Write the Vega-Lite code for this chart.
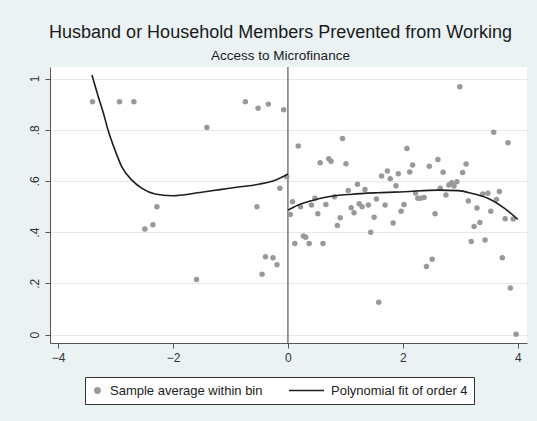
{
  "$schema": "https://vega.github.io/schema/vega-lite/v6.json",
  "autosize": {"type": "none"},
  "width": 477,
  "height": 276,
  "padding": {"left": 50, "top": 67, "right": 10, "bottom": 78},
  "background": "#eaf2f3",
  "title": {
    "text": "Husband or Household Members Prevented from Working",
    "subtitle": "Access to Microfinance",
    "anchor": "middle",
    "dx": -8,
    "offset": 4,
    "font": "Liberation Sans",
    "fontSize": 18,
    "fontWeight": "normal",
    "color": "#1a1a1a",
    "subtitleFont": "Liberation Sans",
    "subtitleFontSize": 13.5,
    "subtitleColor": "#1a1a1a",
    "subtitlePadding": 7
  },
  "datasets": {
    "pts": [
      {"x": -3.40, "y": 0.909, "series": "Sample average within bin"},
      {"x": -2.93, "y": 0.909, "series": "Sample average within bin"},
      {"x": -2.68, "y": 0.909, "series": "Sample average within bin"},
      {"x": -1.41, "y": 0.809, "series": "Sample average within bin"},
      {"x": -0.74, "y": 0.909, "series": "Sample average within bin"},
      {"x": -0.52, "y": 0.884, "series": "Sample average within bin"},
      {"x": -0.34, "y": 0.900, "series": "Sample average within bin"},
      {"x": -0.075, "y": 0.878, "series": "Sample average within bin"},
      {"x": -0.14, "y": 0.571, "series": "Sample average within bin"},
      {"x": -2.28, "y": 0.499, "series": "Sample average within bin"},
      {"x": -2.35, "y": 0.429, "series": "Sample average within bin"},
      {"x": -2.49, "y": 0.412, "series": "Sample average within bin"},
      {"x": -0.54, "y": 0.499, "series": "Sample average within bin"},
      {"x": -0.39, "y": 0.304, "series": "Sample average within bin"},
      {"x": -0.26, "y": 0.300, "series": "Sample average within bin"},
      {"x": -0.19, "y": 0.273, "series": "Sample average within bin"},
      {"x": -0.45, "y": 0.236, "series": "Sample average within bin"},
      {"x": -1.59, "y": 0.215, "series": "Sample average within bin"},
      {"x": -0.02, "y": 0.616, "series": "Sample average within bin"},
      {"x": 0.08, "y": 0.519, "series": "Sample average within bin"},
      {"x": 0.04, "y": 0.469, "series": "Sample average within bin"},
      {"x": 0.18, "y": 0.736, "series": "Sample average within bin"},
      {"x": 0.22, "y": 0.499, "series": "Sample average within bin"},
      {"x": 0.12, "y": 0.356, "series": "Sample average within bin"},
      {"x": 0.27, "y": 0.385, "series": "Sample average within bin"},
      {"x": 0.31, "y": 0.380, "series": "Sample average within bin"},
      {"x": 0.37, "y": 0.356, "series": "Sample average within bin"},
      {"x": 0.41, "y": 0.506, "series": "Sample average within bin"},
      {"x": 0.47, "y": 0.532, "series": "Sample average within bin"},
      {"x": 0.52, "y": 0.472, "series": "Sample average within bin"},
      {"x": 0.56, "y": 0.671, "series": "Sample average within bin"},
      {"x": 0.61, "y": 0.356, "series": "Sample average within bin"},
      {"x": 0.66, "y": 0.508, "series": "Sample average within bin"},
      {"x": 0.71, "y": 0.687, "series": "Sample average within bin"},
      {"x": 0.75, "y": 0.677, "series": "Sample average within bin"},
      {"x": 0.81, "y": 0.538, "series": "Sample average within bin"},
      {"x": 0.86, "y": 0.426, "series": "Sample average within bin"},
      {"x": 0.91, "y": 0.456, "series": "Sample average within bin"},
      {"x": 0.95, "y": 0.766, "series": "Sample average within bin"},
      {"x": 1.01, "y": 0.667, "series": "Sample average within bin"},
      {"x": 1.05, "y": 0.563, "series": "Sample average within bin"},
      {"x": 1.10, "y": 0.495, "series": "Sample average within bin"},
      {"x": 1.15, "y": 0.476, "series": "Sample average within bin"},
      {"x": 1.21, "y": 0.587, "series": "Sample average within bin"},
      {"x": 1.24, "y": 0.511, "series": "Sample average within bin"},
      {"x": 1.29, "y": 0.499, "series": "Sample average within bin"},
      {"x": 1.34, "y": 0.567, "series": "Sample average within bin"},
      {"x": 1.40, "y": 0.506, "series": "Sample average within bin"},
      {"x": 1.44, "y": 0.400, "series": "Sample average within bin"},
      {"x": 1.50, "y": 0.458, "series": "Sample average within bin"},
      {"x": 1.54, "y": 0.529, "series": "Sample average within bin"},
      {"x": 1.58, "y": 0.126, "series": "Sample average within bin"},
      {"x": 1.63, "y": 0.619, "series": "Sample average within bin"},
      {"x": 1.69, "y": 0.506, "series": "Sample average within bin"},
      {"x": 1.73, "y": 0.639, "series": "Sample average within bin"},
      {"x": 1.78, "y": 0.609, "series": "Sample average within bin"},
      {"x": 1.83, "y": 0.436, "series": "Sample average within bin"},
      {"x": 1.88, "y": 0.581, "series": "Sample average within bin"},
      {"x": 1.92, "y": 0.628, "series": "Sample average within bin"},
      {"x": 1.97, "y": 0.482, "series": "Sample average within bin"},
      {"x": 2.02, "y": 0.508, "series": "Sample average within bin"},
      {"x": 2.07, "y": 0.727, "series": "Sample average within bin"},
      {"x": 2.12, "y": 0.635, "series": "Sample average within bin"},
      {"x": 2.17, "y": 0.662, "series": "Sample average within bin"},
      {"x": 2.22, "y": 0.553, "series": "Sample average within bin"},
      {"x": 2.26, "y": 0.532, "series": "Sample average within bin"},
      {"x": 2.31, "y": 0.532, "series": "Sample average within bin"},
      {"x": 2.37, "y": 0.535, "series": "Sample average within bin"},
      {"x": 2.41, "y": 0.266, "series": "Sample average within bin"},
      {"x": 2.46, "y": 0.657, "series": "Sample average within bin"},
      {"x": 2.51, "y": 0.294, "series": "Sample average within bin"},
      {"x": 2.56, "y": 0.472, "series": "Sample average within bin"},
      {"x": 2.61, "y": 0.684, "series": "Sample average within bin"},
      {"x": 2.65, "y": 0.571, "series": "Sample average within bin"},
      {"x": 2.70, "y": 0.634, "series": "Sample average within bin"},
      {"x": 2.75, "y": 0.545, "series": "Sample average within bin"},
      {"x": 2.80, "y": 0.584, "series": "Sample average within bin"},
      {"x": 2.85, "y": 0.593, "series": "Sample average within bin"},
      {"x": 2.89, "y": 0.580, "series": "Sample average within bin"},
      {"x": 2.94, "y": 0.597, "series": "Sample average within bin"},
      {"x": 2.99, "y": 0.968, "series": "Sample average within bin"},
      {"x": 3.04, "y": 0.633, "series": "Sample average within bin"},
      {"x": 3.10, "y": 0.666, "series": "Sample average within bin"},
      {"x": 3.14, "y": 0.522, "series": "Sample average within bin"},
      {"x": 3.19, "y": 0.363, "series": "Sample average within bin"},
      {"x": 3.24, "y": 0.422, "series": "Sample average within bin"},
      {"x": 3.29, "y": 0.494, "series": "Sample average within bin"},
      {"x": 3.34, "y": 0.438, "series": "Sample average within bin"},
      {"x": 3.39, "y": 0.549, "series": "Sample average within bin"},
      {"x": 3.43, "y": 0.369, "series": "Sample average within bin"},
      {"x": 3.48, "y": 0.552, "series": "Sample average within bin"},
      {"x": 3.53, "y": 0.482, "series": "Sample average within bin"},
      {"x": 3.58, "y": 0.790, "series": "Sample average within bin"},
      {"x": 3.63, "y": 0.528, "series": "Sample average within bin"},
      {"x": 3.68, "y": 0.559, "series": "Sample average within bin"},
      {"x": 3.73, "y": 0.300, "series": "Sample average within bin"},
      {"x": 3.78, "y": 0.452, "series": "Sample average within bin"},
      {"x": 3.83, "y": 0.749, "series": "Sample average within bin"},
      {"x": 3.87, "y": 0.182, "series": "Sample average within bin"},
      {"x": 3.92, "y": 0.451, "series": "Sample average within bin"},
      {"x": 3.97, "y": 0.001, "series": "Sample average within bin"}
    ],
    "fit": [
      {"x": -3.41, "y": 1.014, "side": "L", "series": "Polynomial fit of order 4"},
      {"x": -3.30, "y": 0.929, "side": "L", "series": "Polynomial fit of order 4"},
      {"x": -3.21, "y": 0.864, "side": "L", "series": "Polynomial fit of order 4"},
      {"x": -3.13, "y": 0.799, "side": "L", "series": "Polynomial fit of order 4"},
      {"x": -3.01, "y": 0.721, "side": "L", "series": "Polynomial fit of order 4"},
      {"x": -2.89, "y": 0.655, "side": "L", "series": "Polynomial fit of order 4"},
      {"x": -2.72, "y": 0.604, "side": "L", "series": "Polynomial fit of order 4"},
      {"x": -2.54, "y": 0.571, "side": "L", "series": "Polynomial fit of order 4"},
      {"x": -2.31, "y": 0.549, "side": "L", "series": "Polynomial fit of order 4"},
      {"x": -2.02, "y": 0.542, "side": "L", "series": "Polynomial fit of order 4"},
      {"x": -1.80, "y": 0.546, "side": "L", "series": "Polynomial fit of order 4"},
      {"x": -1.53, "y": 0.555, "side": "L", "series": "Polynomial fit of order 4"},
      {"x": -1.18, "y": 0.566, "side": "L", "series": "Polynomial fit of order 4"},
      {"x": -0.83, "y": 0.577, "side": "L", "series": "Polynomial fit of order 4"},
      {"x": -0.49, "y": 0.588, "side": "L", "series": "Polynomial fit of order 4"},
      {"x": -0.20, "y": 0.605, "side": "L", "series": "Polynomial fit of order 4"},
      {"x": 0.0, "y": 0.627, "side": "L", "series": "Polynomial fit of order 4"},
      {"x": 0.0, "y": 0.486, "side": "R", "series": "Polynomial fit of order 4"},
      {"x": 0.18, "y": 0.506, "side": "R", "series": "Polynomial fit of order 4"},
      {"x": 0.41, "y": 0.523, "side": "R", "series": "Polynomial fit of order 4"},
      {"x": 0.70, "y": 0.538, "side": "R", "series": "Polynomial fit of order 4"},
      {"x": 1.11, "y": 0.548, "side": "R", "series": "Polynomial fit of order 4"},
      {"x": 1.57, "y": 0.554, "side": "R", "series": "Polynomial fit of order 4"},
      {"x": 2.03, "y": 0.558, "side": "R", "series": "Polynomial fit of order 4"},
      {"x": 2.61, "y": 0.564, "side": "R", "series": "Polynomial fit of order 4"},
      {"x": 2.96, "y": 0.562, "side": "R", "series": "Polynomial fit of order 4"},
      {"x": 3.19, "y": 0.552, "side": "R", "series": "Polynomial fit of order 4"},
      {"x": 3.48, "y": 0.532, "side": "R", "series": "Polynomial fit of order 4"},
      {"x": 3.77, "y": 0.493, "side": "R", "series": "Polynomial fit of order 4"},
      {"x": 4.0, "y": 0.450, "side": "R", "series": "Polynomial fit of order 4"}
    ]
  },
  "encoding": {
    "x": {
      "field": "x", "type": "quantitative",
      "scale": {"domain": [-4.14, 4.16], "nice": false, "zero": false},
      "axis": {"title": null, "values": [-4, -2, 0, 2, 4], "grid": false, "format": "d"}
    },
    "y": {
      "field": "y", "type": "quantitative",
      "scale": {"domain": [-0.033, 1.045], "nice": false, "zero": false},
      "axis": {
        "title": null, "values": [0, 0.2, 0.4, 0.6, 0.8, 1], "grid": true,
        "labelAngle": -90, "labelAlign": "center", "labelBaseline": "bottom",
        "labelExpr": "datum.value == 0 ? '0' : datum.value == 1 ? '1' : replace(format(datum.value, '.1f'), '0.', '.')"
      }
    }
  },
  "layer": [
    {
      "data": {"values": [{"x0": 0}]},
      "mark": {"type": "rule", "color": "#555555", "strokeWidth": 1.2},
      "encoding": {"x": {"field": "x0", "type": "quantitative"}, "y": null}
    },
    {
      "data": {"name": "pts"},
      "mark": {"type": "point", "filled": true, "opacity": 1},
      "encoding": {
        "color": {
          "field": "series", "type": "nominal",
          "scale": {"domain": ["Sample average within bin", "Polynomial fit of order 4"], "range": ["#999999", "#1e1e1e"]},
          "legend": {"orient": "none", "legendX": 35, "legendY": 310, "direction": "horizontal", "title": null}
        },
        "shape": {
          "field": "series", "type": "nominal",
          "scale": {"domain": ["Sample average within bin", "Polynomial fit of order 4"], "range": ["circle", "stroke"]},
          "legend": {"orient": "none", "legendX": 35, "legendY": 310, "direction": "horizontal", "title": null}
        },
        "size": {
          "field": "series", "type": "ordinal",
          "scale": {"domain": ["Sample average within bin", "Polynomial fit of order 4"], "range": [30, 1225]},
          "legend": {"orient": "none", "legendX": 35, "legendY": 310, "direction": "horizontal", "title": null}
        }
      }
    },
    {
      "data": {"name": "fit"},
      "mark": {"type": "line", "interpolate": "monotone", "strokeWidth": 1.6},
      "encoding": {
        "detail": {"field": "side"},
        "color": {"field": "series", "type": "nominal"}
      }
    }
  ],
  "config": {
    "view": {"stroke": null, "fill": "white"},
    "axis": {
      "domainColor": "#555555", "tickColor": "#555555", "tickSize": 5,
      "labelFont": "Liberation Sans", "labelFontSize": 12, "labelColor": "#333333",
      "gridColor": "#e4eaec", "gridWidth": 1, "labelPadding": 4
    },
    "legend": {
      "fillColor": "white", "strokeColor": "#333333", "padding": 6,
      "labelFont": "Liberation Sans", "labelFontSize": 13, "labelColor": "#222222",
      "columnPadding": 25, "labelOffset": 6, "symbolStrokeWidth": 1.3,
      "labelBaseline": "middle", "clipHeight": 15
    }
  }
}
